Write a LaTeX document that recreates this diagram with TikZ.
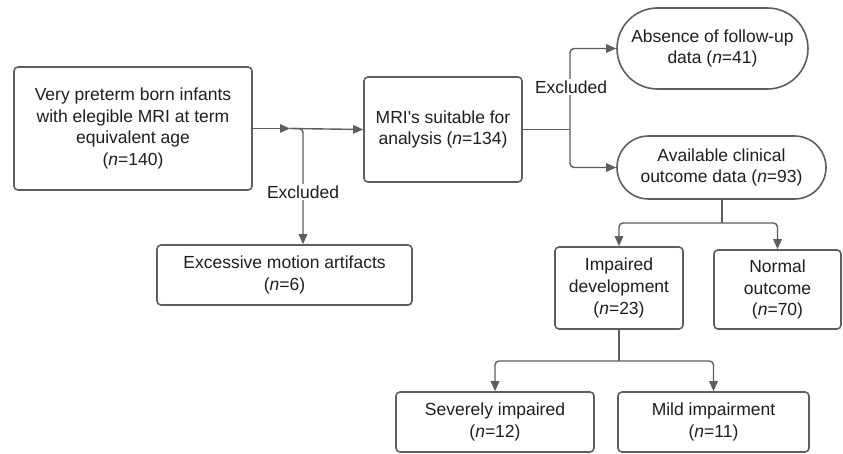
\documentclass[tikz,border=0pt]{standalone}
\usepackage{fontspec}
\setmainfont{Liberation Sans}[Ligatures=TeXOff]
\usetikzlibrary{arrows.meta,shapes.misc}
\definecolor{edge}{HTML}{5E5E5E}
\definecolor{txt}{HTML}{1E1E1E}
\begin{document}
\begin{tikzpicture}[x=1pt,y=-1pt,
  every node/.style={font=\fontsize{17.5}{21.7}\selectfont, text=txt},
  box/.style={draw=edge, line width=1.6pt, rounded corners=4pt, align=center, inner sep=0pt},
  pill/.style={draw=edge, line width=1.6pt, rounded rectangle, align=center, inner sep=0pt},
  conn/.style={draw=edge, line width=1.4pt, rounded corners=4pt, -{Triangle[length=10pt,width=8.5pt]}},
  plain/.style={draw=edge, line width=1.4pt, rounded corners=4pt},
  lbl/.style={fill=white, inner sep=2pt}]
\useasboundingbox (0,0) rectangle (843,454);
\node[box, minimum width=238pt, minimum height=123pt] (A) at (133,128.5)
  {Very preterm born infants\\with elegible MRI at term\\equivalent age\\(\textit{n}=140)};
\node[box, minimum width=158pt, minimum height=105pt] (B) at (443,129.5)
  {MRI's suitable for\\analysis (\textit{n}=134)};
\node[box, minimum width=255pt, minimum height=60pt] (E) at (284.5,275)
  {Excessive motion artifacts\\(\textit{n}=6)};
\node[pill, minimum width=191pt, minimum height=81pt] (Abs) at (712.5,48.5)
  {Absence of follow-up\\data (\textit{n}=41)};
\node[pill, minimum width=209pt, minimum height=63pt] (Av) at (721.5,167.5)
  {Available clinical\\outcome data (\textit{n}=93)};
\node[box, minimum width=128pt, minimum height=82pt] (Imp) at (619,288)
  {Impaired\\development\\(\textit{n}=23)};
\node[box, minimum width=127pt, minimum height=79pt] (Nor) at (777.5,289.5)
  {Normal\\outcome\\(\textit{n}=70)};
\node[box, minimum width=198pt, minimum height=60pt] (Sev) at (495,422)
  {Severely impaired\\(\textit{n}=12)};
\node[box, minimum width=191pt, minimum height=60pt] (Mild) at (713.5,422)
  {Mild impairment\\(\textit{n}=11)};
% connectors
\coordinate (j1) at (290,128.5);
\coordinate (j2) at (303,128.5);
\coordinate (j3) at (570,129.5);
\coordinate (j4) at (722,223);
\coordinate (j5) at (619,361);
\draw[conn] (A.east) -- (j1);
\draw[conn] (j1) -- (B.west);
\draw[conn] (j1) -- (j2) -- (j2 |- E.north);
\node[lbl] (x1) at (303,192) {Excluded};
\draw[plain] (B.east) -- (j3);
\draw[conn] (j3) -- (j3 |- Abs.west) -- (Abs.west);
\draw[conn] (j3) -- (j3 |- Av.west) -- (Av.west);
\node[lbl] (x2) at (571,87) {Excluded};
\draw[plain] (Av.south -| j4) -- (j4);
\draw[conn] (j4) -- (Imp.north |- j4) -- (Imp.north);
\draw[conn] (j4) -- (Nor.north |- j4) -- (Nor.north);
\draw[plain] (Imp.south) -- (j5);
\draw[conn] (j5) -- (Sev.north |- j5) -- (Sev.north);
\draw[conn] (j5) -- (Mild.north |- j5) -- (Mild.north);
\end{tikzpicture}
\end{document}
